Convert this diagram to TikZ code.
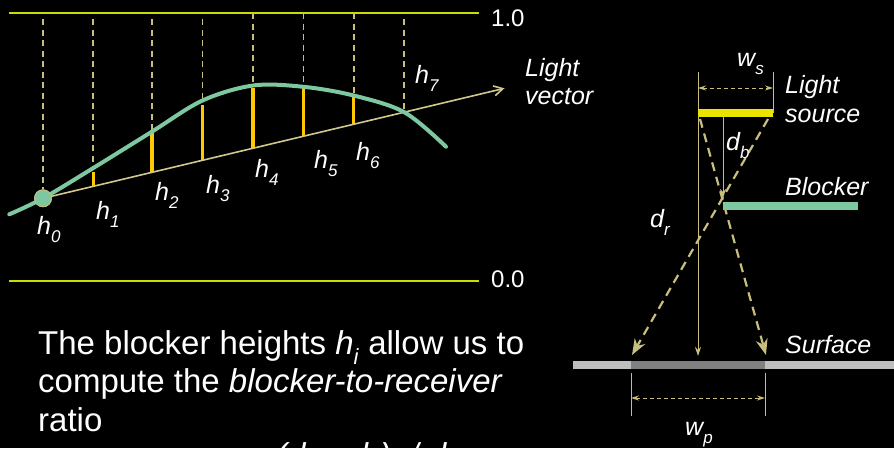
\documentclass[tikz,border=0pt]{standalone}
\usepackage{fontspec}
\setmainfont{Liberation Sans}
\usetikzlibrary{arrows.meta}
\definecolor{khaki}{RGB}{200,190,125}
\definecolor{lvcol}{RGB}{210,200,140}
\definecolor{limitcol}{RGB}{205,220,0}
\definecolor{baryel}{RGB}{255,200,0}
\definecolor{curvegreen}{RGB}{125,200,160}
\definecolor{srcyel}{RGB}{235,228,0}
\definecolor{surflight}{RGB}{190,190,190}
\definecolor{surfdark}{RGB}{128,128,128}
\newcommand\mysub[2][17]{\raisebox{-0.33em}{\fontsize{#1}{#1}\selectfont #2}}
\begin{document}
\begin{tikzpicture}[x=1pt,y=-1pt,
  lab/.style={text=white,inner sep=0pt,anchor=base west,font=\fontsize{25}{29}\selectfont\itshape},
  num/.style={text=white,inner sep=0pt,anchor=base west,font=\fontsize{24}{28}\selectfont},
  para/.style={text=white,inner sep=0pt,anchor=base west,font=\fontsize{33}{38}\selectfont},
  limitline/.style={draw=limitcol,line width=1.6pt},
  guide/.style={draw=khaki,line width=1.8pt,dash pattern=on 6pt off 4.5pt},
  lvec/.style={draw=lvcol,line width=1.6pt,-{Straight Barb[length=9pt,width=10pt,line width=1.6pt]}},
  hbar/.style={draw=baryel,line width=3.6pt},
  hcurve/.style={draw=curvegreen,line width=4pt,line cap=round},
  thinline/.style={draw=khaki,line width=1pt},
  thinarrow/.style={thinline,-{Stealth[length=9pt,width=6pt]}},
  dimarrow/.style={draw=khaki,line width=1pt,dash pattern=on 4pt off 3pt,{Stealth[length=8pt,width=5pt]}-{Stealth[length=8pt,width=5pt]}},
  ray/.style={draw=khaki,line width=2.2pt,dash pattern=on 9pt off 6pt,-{Stealth[length=16pt,width=12pt]}},
]
\clip (0,0) rectangle (894,448);
\fill[black] (0,0) rectangle (894,448);
\useasboundingbox (0,0) rectangle (894,448);

% ---------- left diagram ----------
\coordinate (topL) at (9,12.7);  \coordinate (topR) at (479,12.7);
\coordinate (botL) at (9,281);   \coordinate (botR) at (479,281);
\draw[limitline] (topL) -- (topR);
\draw[limitline] (botL) -- (botR);
\node[num] (one) at (491,26.7) {1.0};
\node[num] (zero) at (491,287) {0.0};

% curve points
\coordinate (cs) at (9.3,214.3);
\coordinate (c1) at (93.3,168);
\coordinate (c2) at (152.2,131.5);
\coordinate (c3) at (202.5,100.5);
\coordinate (c4) at (253.1,85.5);
\coordinate (c5) at (303.4,86.8);
\coordinate (c6) at (353.6,95.5);
\coordinate (c7) at (404.3,112.2);
\coordinate (ce) at (446,146.7);
% light-vector points
\coordinate (l1) at (93.3,186.3);
\coordinate (l2) at (152.2,172.3);
\coordinate (l3) at (202.5,160.3);
\coordinate (l4) at (253.1,148.2);
\coordinate (l5) at (303.4,136.2);
\coordinate (l6) at (353.6,124.3);
\coordinate (tip) at (504.5,88.3);
% bar tops
\coordinate (b1) at (93.3,172.3);
\coordinate (b2) at (152.2,130);
\coordinate (b3) at (202.5,105);
\coordinate (b4) at (253.1,88.3);
\coordinate (b5) at (303.4,88.3);
\coordinate (b6) at (353.6,96.7);
% tops of guides
\coordinate (t0) at (43,19);
\coordinate (t1) at (93.3,19);
\coordinate (t2) at (152.2,19);
\coordinate (t3) at (202.5,19);
\coordinate (t4) at (253.1,13);
\coordinate (t5) at (303.4,13);
\coordinate (t6) at (353.6,13);
\coordinate (t7) at (404.3,19);

\node[circle,fill=curvegreen,draw=khaki,line width=0.8pt,minimum size=17pt,inner sep=0pt] (p0) at (43,198.3) {};

\foreach \i in {1,...,7}{\draw[guide] (t\i) -- (c\i);}
\draw[guide] (t0) -- (p0.north);
\draw[lvec] (p0.center) -- (tip);
\foreach \i in {1,...,6}{\draw[hbar] (l\i) -- (b\i);}
\draw[hcurve] plot[smooth,tension=0.55] coordinates {(cs) (p0.center) (c1) (c2) (c3) (c4) (c5) (c6) (c7) (ce)};
\node[circle,fill=curvegreen,draw=khaki,line width=0.8pt,minimum size=17pt,inner sep=0pt] at (p0) {};

\node[lab] (h0) at (37,234) {h\mysub{0}};
\node[lab] (h1) at (96,219) {h\mysub{1}};
\node[lab] (h2) at (155,200) {h\mysub{2}};
\node[lab] (h3) at (206,193) {h\mysub{3}};
\node[lab] (h4) at (255,177) {h\mysub{4}};
\node[lab] (h5) at (314,168) {h\mysub{5}};
\node[lab] (h6) at (356,160) {h\mysub{6}};
\node[lab] (h7) at (415,83) {h\mysub{7}};
\node[lab] (lv1) at (525,76) {Light};
\node[lab] (lv2) at (525,104) {vector};

% ---------- text ----------
\node[para] (tx1) at (38,354) {The blocker heights \textit{h}\mysub[22]{\textit{i}} allow us to};
\node[para] (tx2) at (38,392) {compute the \textit{blocker-to-receiver}};
\node[para] (tx3) at (38,431) {ratio};
\node[para] (tx4) at (276,466) {\itshape (d\mysub[22]{r} -- d\mysub[22]{b})\ \ / d\mysub[22]{b}};

% ---------- right diagram ----------
\coordinate (sL) at (698,113);  \coordinate (sR) at (773,113);
\coordinate (sLt) at (698,72);  \coordinate (sRt) at (773,72);
\coordinate (wsL) at (698,88);  \coordinate (wsR) at (773,88);
\coordinate (ra1) at (700,119); \coordinate (ra2) at (766,355);
\coordinate (rb1) at (768,119); \coordinate (rb2) at (632,355);
\coordinate (db1) at (723,117); \coordinate (db2) at (723,198);
\coordinate (dr1) at (698,117); \coordinate (dr2) at (698,356);
\coordinate (blL) at (723,206); \coordinate (blR) at (858,206);
\coordinate (suL) at (573,365); \coordinate (suR) at (894,365);
\coordinate (pL) at (631,365);  \coordinate (pR) at (765,365);
\coordinate (pLt) at (631,373); \coordinate (pLb) at (631,416);
\coordinate (pRt) at (765,373); \coordinate (pRb) at (765,416);
\coordinate (wpL) at (631,398); \coordinate (wpR) at (765,398);

\draw[thinline] (sLt) -- (sL);
\draw[thinline] (sRt) -- (sR);
\draw[dimarrow] (wsL) -- (wsR);
\draw[draw=surflight,line width=8pt] (suL) -- (suR);
\draw[draw=surfdark,line width=8pt] (pL) -- (pR);
\draw[ray] (ra1) -- (ra2);
\draw[ray] (rb1) -- (rb2);
\draw[thinarrow] (db1) -- (db2);
\draw[thinarrow] (dr1) -- (dr2);
\draw[draw=srcyel,line width=7.5pt] (sL) -- (sR);
\draw[draw=curvegreen,line width=8pt] (blL) -- (blR);
\draw[thinline] (pLt) -- (pLb);
\draw[thinline] (pRt) -- (pRb);
\draw[dimarrow] (wpL) -- (wpR);

\node[lab] (ws) at (737,66) {w\mysub{s}};
\node[lab] (ls1) at (785,93) {Light};
\node[lab] (ls2) at (785,122) {source};
\node[lab] (db) at (726,150) {d\mysub{b}};
\node[lab] (blk) at (785,195) {Blocker};
\node[lab] (dr) at (650,227) {d\mysub{r}};
\node[lab] (srf) at (785,353) {Surface};
\node[lab] (wp) at (685,435) {w\mysub{p}};
\end{tikzpicture}
\end{document}
